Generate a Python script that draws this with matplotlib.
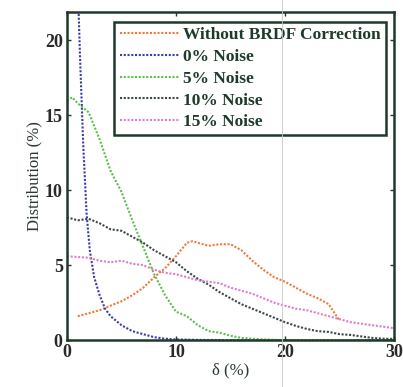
import matplotlib
matplotlib.use("Agg")
import matplotlib.pyplot as plt
from matplotlib.lines import Line2D

plt.rcParams['font.family'] = ['Liberation Serif', 'DejaVu Serif']

# 곡선 데이터
x_brdf = [1, 2, 3, 4, 5, 6, 7, 8, 9, 10, 11, 11.5, 12, 13, 14, 15, 16, 17, 18, 19, 20, 21, 22, 23, 24, 25]
y_brdf = [1.6, 1.8, 2.0, 2.3, 2.6, 3.0, 3.5, 4.2, 4.8, 5.6, 6.5, 6.6, 6.5, 6.3, 6.4, 6.4, 6.0, 5.3, 4.7, 4.2, 3.9, 3.5, 3.1, 2.8, 2.4, 1.3]

x_n0 = [0.9, 1.2, 1.5, 1.8, 2.1, 2.5, 3.0, 3.5, 4.0, 5.0, 6.0, 7.0, 8.0, 9.0, 10.0, 12.0, 15.0, 20.0, 30.0]
y_n0 = [26.0, 19.0, 13.0, 8.5, 6.0, 4.2, 3.0, 2.1, 1.6, 1.0, 0.6, 0.4, 0.2, 0.1, 0.05, 0.02, 0.0, 0.0, 0.0]

x_n5 = [0, 0.5, 1, 1.5, 2, 3, 4, 5, 6, 7, 8, 9, 10, 11, 12, 13, 14, 15, 16, 17, 18, 20, 30]
y_n5 = [16.0, 16.2, 15.8, 15.5, 15.2, 13.4, 11.3, 9.9, 8.0, 6.2, 4.4, 3.0, 1.9, 1.6, 1.0, 0.6, 0.5, 0.3, 0.15, 0.1, 0.05, 0.0, 0.0]

x_n10 = list(range(0, 31))
y_n10 = [8.2, 8.0, 8.1, 7.8, 7.4, 7.3, 6.9, 6.5, 6.0, 5.6, 5.2, 4.6, 4.1, 3.7, 3.2, 2.8,
         2.4, 2.1, 1.8, 1.5, 1.2, 0.95, 0.75, 0.6, 0.55, 0.4, 0.35, 0.25, 0.15, 0.1, 0.08]

x_n15 = list(range(0, 31))
y_n15 = [5.6, 5.55, 5.5, 5.3, 5.2, 5.3, 5.1, 5.0, 4.7, 4.5, 4.4, 4.2, 4.0, 3.9, 3.8, 3.5,
         3.3, 3.1, 2.8, 2.5, 2.3, 2.1, 2.0, 1.8, 1.6, 1.4, 1.2, 1.1, 1.0, 0.9, 0.8]

labels = ['Without BRDF Correction', '0% Noise', '5% Noise', '10% Noise', '15% Noise']
colors = ['#f07a3c', '#3c3ca8', '#5cc04c', '#3c4848', '#e07cc8']

fig = plt.figure(figsize=(4.03, 3.87), dpi=100)
ax = fig.add_axes([0.166, 0.121, 0.812, 0.848])

series = [(x_brdf, y_brdf), (x_n0, y_n0), (x_n5, y_n5), (x_n10, y_n10), (x_n15, y_n15)]
for (xs, ys), lab, c in zip(series, labels, colors):
    ax.plot(xs, ys, ls=(0, (1, 0.8)), lw=1.5, color=c, label=lab)

ax.set_xlim(0, 30)
ax.set_ylim(0, 21.9)
ax.set_xticks([0, 10, 20, 30])
ax.set_yticks([0, 5, 10, 15, 20])

edge = '#1e3a2a'
for s in ax.spines.values():
    s.set_color(edge)
    s.set_linewidth(1.8)
ax.tick_params(direction='in', length=3, width=1, colors=edge, labelsize=13,
               top=True, right=True, pad=3)
for t in ax.get_xticklabels() + ax.get_yticklabels():
    t.set_fontweight('bold')
    t.set_color('#2a2a2a')

ax.set_xlabel('δ (%)', fontsize=12, color='#2a3a30', labelpad=1)
ax.set_ylabel('Distribution (%)', fontsize=12, color='#2a3a30', labelpad=2)

leg = ax.legend(loc='upper right', bbox_to_anchor=(0.985, 0.98),
                prop={'weight': 'bold', 'size': 12.5}, frameon=True, fancybox=False,
                handlelength=3.4, handletextpad=0.25, labelspacing=0.32,
                borderpad=0.3, borderaxespad=0.2)
leg.get_frame().set_edgecolor(edge)
leg.get_frame().set_linewidth(1.8)
leg.get_frame().set_alpha(1)
for t in leg.get_texts():
    t.set_color('#1e3a2a')

# 스캔 흔적 (세로 얇은 선)
fig.add_artist(Line2D([282 / 403, 282 / 403], [0, 1], color='#c8c8c8', lw=0.6))

fig.savefig('out.png', dpi=100)
